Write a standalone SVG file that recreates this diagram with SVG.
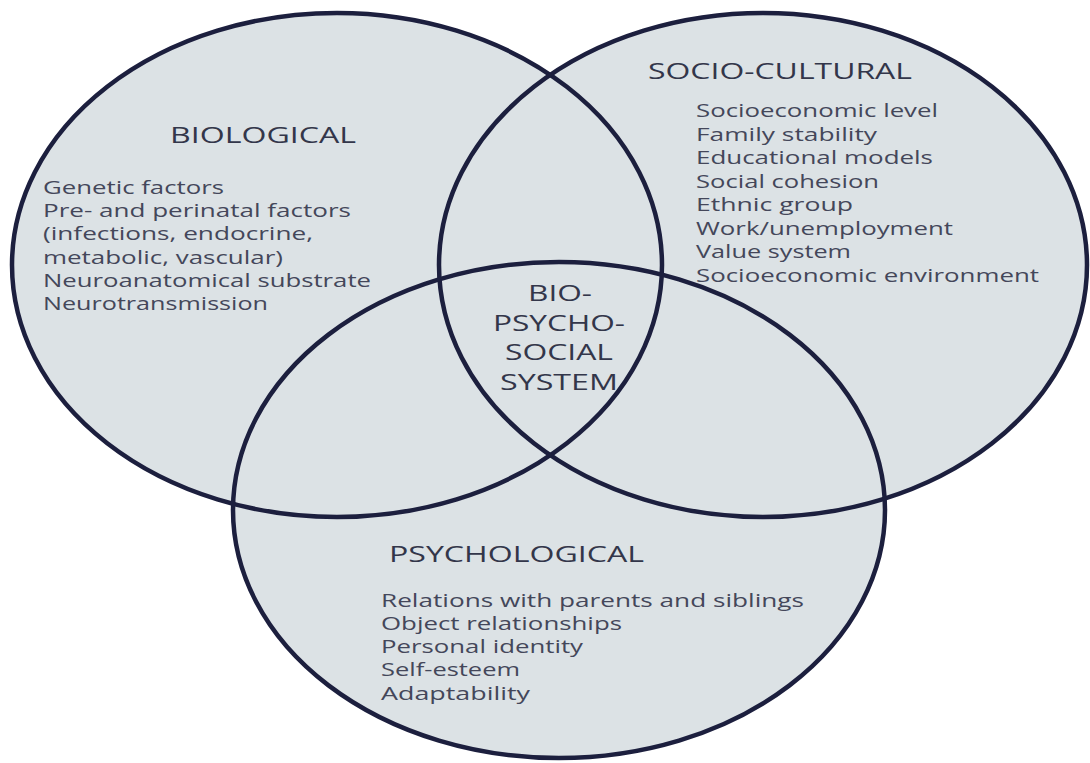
<svg xmlns="http://www.w3.org/2000/svg" xmlns:xlink="http://www.w3.org/1999/xlink" width="1090" height="763" viewBox="0 0 1090 763">
  <style>
    .fill { fill: #dce2e5; stroke: none; }
    .ring { fill: none; stroke: #1c1f3e; stroke-width: 4.5; }
    .head { font-family: "Open Sans", "Noto Sans", "DejaVu Sans", sans-serif; font-size: 22px; fill: #33364a; }
    .item { font-family: "Open Sans", "Noto Sans", "DejaVu Sans", sans-serif; font-size: 17.5px; fill: #44475a; }
    .core { font-family: "Open Sans", "Noto Sans", "DejaVu Sans", sans-serif; font-size: 22px; fill: #33364a; }
  </style>
  <defs>
    <ellipse id="shape-bio" cx="337" cy="265" rx="325" ry="252"/>
    <ellipse id="shape-soc" cx="763" cy="265" rx="324" ry="252"/>
    <ellipse id="shape-psy" cx="559" cy="510" rx="326" ry="248"/>
  </defs>

  <rect x="0" y="0" width="1090" height="763" fill="#ffffff"/>

  <!-- shared fill under all three circles, so overlaps keep one tone -->
  <g id="fills">
    <use xlink:href="#shape-bio" class="fill"/>
    <use xlink:href="#shape-soc" class="fill"/>
    <use xlink:href="#shape-psy" class="fill"/>
  </g>

  <g id="biological">
    <use xlink:href="#shape-bio" class="ring"/>
    <text class="head" x="170" y="143" textLength="186" lengthAdjust="spacingAndGlyphs">BIOLOGICAL</text>
    <text class="item" x="43" y="194" textLength="181" lengthAdjust="spacingAndGlyphs">Genetic factors</text>
    <text class="item" x="43" y="217" textLength="308" lengthAdjust="spacingAndGlyphs">Pre- and perinatal factors</text>
    <text class="item" x="43" y="240" textLength="270" lengthAdjust="spacingAndGlyphs">(infections, endocrine,</text>
    <text class="item" x="43" y="264" textLength="240" lengthAdjust="spacingAndGlyphs">metabolic, vascular)</text>
    <text class="item" x="43" y="287" textLength="328" lengthAdjust="spacingAndGlyphs">Neuroanatomical substrate</text>
    <text class="item" x="43" y="310" textLength="225" lengthAdjust="spacingAndGlyphs">Neurotransmission</text>
  </g>

  <g id="socio-cultural">
    <use xlink:href="#shape-soc" class="ring"/>
    <text class="head" x="648" y="79" textLength="264" lengthAdjust="spacingAndGlyphs">SOCIO-CULTURAL</text>
    <text class="item" x="696" y="117" textLength="242" lengthAdjust="spacingAndGlyphs">Socioeconomic level</text>
    <text class="item" x="696" y="140.5" textLength="181" lengthAdjust="spacingAndGlyphs">Family stability</text>
    <text class="item" x="696" y="164" textLength="237" lengthAdjust="spacingAndGlyphs">Educational models</text>
    <text class="item" x="696" y="187.5" textLength="183" lengthAdjust="spacingAndGlyphs">Social cohesion</text>
    <text class="item" x="696" y="211" textLength="157" lengthAdjust="spacingAndGlyphs">Ethnic group</text>
    <text class="item" x="696" y="234.5" textLength="257" lengthAdjust="spacingAndGlyphs">Work/unemployment</text>
    <text class="item" x="696" y="258" textLength="155" lengthAdjust="spacingAndGlyphs">Value system</text>
    <text class="item" x="696" y="281.5" textLength="343" lengthAdjust="spacingAndGlyphs">Socioeconomic environment</text>
  </g>

  <g id="psychological">
    <use xlink:href="#shape-psy" class="ring"/>
    <text class="head" x="389" y="562" textLength="255" lengthAdjust="spacingAndGlyphs">PSYCHOLOGICAL</text>
    <text class="item" x="381" y="607" textLength="423" lengthAdjust="spacingAndGlyphs">Relations with parents and siblings</text>
    <text class="item" x="381" y="630" textLength="241" lengthAdjust="spacingAndGlyphs">Object relationships</text>
    <text class="item" x="381" y="653" textLength="202" lengthAdjust="spacingAndGlyphs">Personal identity</text>
    <text class="item" x="381" y="676" textLength="139" lengthAdjust="spacingAndGlyphs">Self-esteem</text>
    <text class="item" x="381" y="700" textLength="149" lengthAdjust="spacingAndGlyphs">Adaptability</text>
  </g>

  <g id="bio-psycho-social">
    <text class="core" x="528" y="301" textLength="64" lengthAdjust="spacingAndGlyphs">BIO-</text>
    <text class="core" x="493" y="331" textLength="132" lengthAdjust="spacingAndGlyphs">PSYCHO-</text>
    <text class="core" x="505" y="360" textLength="108" lengthAdjust="spacingAndGlyphs">SOCIAL</text>
    <text class="core" x="500" y="390" textLength="118" lengthAdjust="spacingAndGlyphs">SYSTEM</text>
  </g>
</svg>
